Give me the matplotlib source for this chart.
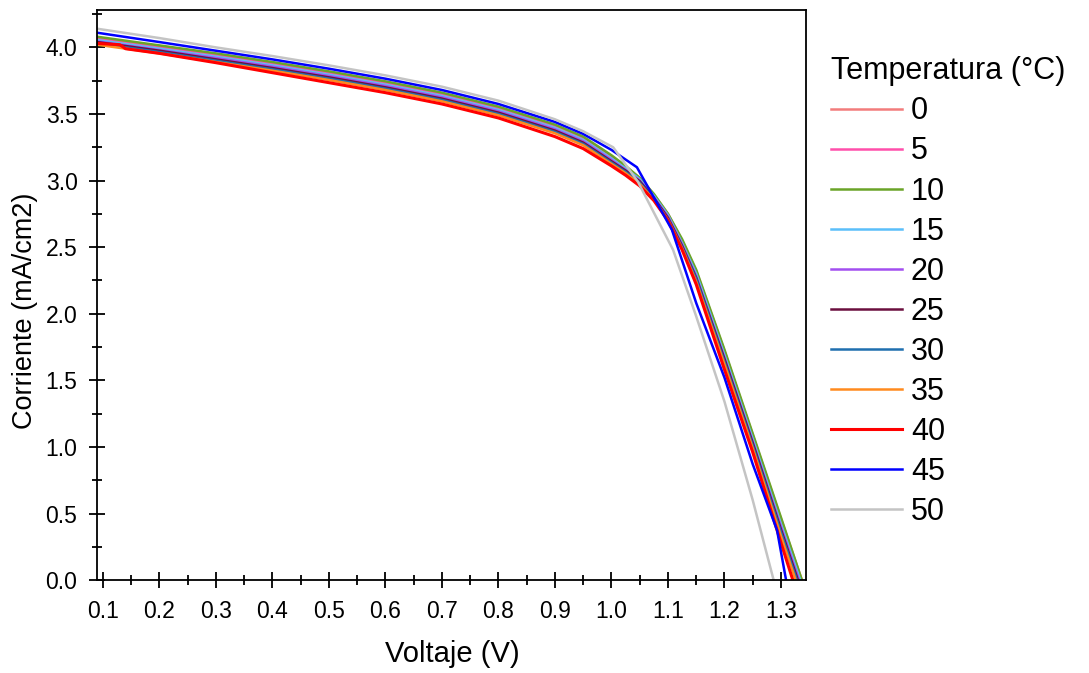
import matplotlib.pyplot as plt
from matplotlib.ticker import MultipleLocator

plt.rcParams['font.family'] = ['Liberation Sans', 'DejaVu Sans']

# Voltage grid shared by the 0-35 degC curves (last point is Voc, per series)
V_GRID = [0.09, 0.2, 0.3, 0.4, 0.5, 0.6, 0.7, 0.8, 0.9, 0.95, 1.0, 1.025, 1.05,
          1.075, 1.1, 1.125, 1.15, 1.2, 1.25, 1.3]

temps = ["0", "5", "10", "15", "20", "25", "30", "35", "40", "45", "50"]
colors = ["#F27C7C", "#FF4FAA", "#6AA428", "#5BBFFA", "#A24FF0", "#6B0F3E",
          "#1F6FAF", "#FF8A1E", "#FF0000", "#0000FF", "#C4C4C4"]

i_0 = [4.07, 4.005, 3.945, 3.88, 3.81, 3.735, 3.65, 3.545, 3.41, 3.32, 3.18, 3.105, 3.02, 2.895, 2.75, 2.55, 2.32, 1.72, 1.09, 0.46, 0.0]
i_5 = [4.065, 4.0, 3.94, 3.875, 3.805, 3.73, 3.645, 3.54, 3.405, 3.315, 3.175, 3.10, 3.015, 2.89, 2.74, 2.54, 2.31, 1.71, 1.08, 0.44, 0.0]
i_10 = [4.08, 4.015, 3.955, 3.89, 3.82, 3.745, 3.66, 3.555, 3.42, 3.33, 3.19, 3.11, 3.02, 2.90, 2.75, 2.56, 2.33, 1.73, 1.10, 0.47, 0.0]
i_15 = [4.055, 3.99, 3.93, 3.865, 3.795, 3.72, 3.635, 3.53, 3.395, 3.305, 3.165, 3.09, 3.01, 2.885, 2.74, 2.53, 2.30, 1.69, 1.06, 0.42, 0.0]
i_20 = [4.045, 3.98, 3.92, 3.855, 3.785, 3.71, 3.625, 3.52, 3.385, 3.295, 3.155, 3.08, 3.0, 2.875, 2.73, 2.52, 2.28, 1.67, 1.04, 0.40, 0.0]
i_25 = [4.04, 3.975, 3.91, 3.845, 3.775, 3.70, 3.615, 3.51, 3.375, 3.285, 3.145, 3.075, 2.995, 2.87, 2.72, 2.51, 2.27, 1.66, 1.03, 0.38, 0.0]
i_30 = [4.03, 3.965, 3.90, 3.835, 3.765, 3.69, 3.605, 3.50, 3.365, 3.275, 3.135, 3.065, 2.985, 2.86, 2.71, 2.50, 2.26, 1.64, 1.01, 0.36, 0.0]
i_35 = [4.02, 3.955, 3.89, 3.825, 3.755, 3.68, 3.595, 3.49, 3.355, 3.265, 3.125, 3.055, 2.975, 2.855, 2.705, 2.49, 2.24, 1.62, 0.99, 0.33, 0.0]
voc_mid = [1.337, 1.336, 1.337, 1.334, 1.332, 1.330, 1.328, 1.326]

v_40 = [0.09, 0.13, 0.14, 0.2, 0.3, 0.4, 0.5, 0.6, 0.7, 0.8, 0.9, 0.95, 1.0, 1.025, 1.05,
        1.075, 1.1, 1.125, 1.15, 1.2, 1.25, 1.3, 1.321]
i_40 = [4.03, 4.02, 3.99, 3.955, 3.885, 3.81, 3.735, 3.66, 3.575, 3.47, 3.33, 3.24, 3.11, 3.04, 2.96,
        2.85, 2.70, 2.48, 2.22, 1.58, 0.96, 0.28, 0.0]

v_45 = [0.09, 0.2, 0.3, 0.4, 0.5, 0.6, 0.7, 0.8, 0.9, 0.95, 1.0, 1.045, 1.107, 1.15, 1.2, 1.25, 1.293, 1.309]
i_45 = [4.11, 4.04, 3.975, 3.91, 3.84, 3.765, 3.68, 3.575, 3.44, 3.35, 3.23, 3.10, 2.63, 2.08, 1.52, 0.87, 0.375, 0.0]

v_50 = [0.09, 0.2, 0.3, 0.4, 0.5, 0.6, 0.7, 0.8, 0.9, 0.95, 1.003, 1.047, 1.109, 1.15, 1.2, 1.25, 1.287]
i_50 = [4.14, 4.07, 4.0, 3.935, 3.865, 3.79, 3.705, 3.60, 3.46, 3.37, 3.25, 2.99, 2.48, 1.98, 1.34, 0.60, 0.0]

mid_currents = [i_0, i_5, i_10, i_15, i_20, i_25, i_30, i_35]

fig = plt.figure(figsize=(10.89, 6.73), dpi=100)
ax = fig.add_axes([0.089, 0.138, 0.651, 0.847])

for k, cur in enumerate(mid_currents):
    ax.plot(V_GRID + [voc_mid[k]], cur, color=colors[k], lw=1.8, label=temps[k])
ax.plot(v_40, i_40, color=colors[8], lw=2.2, label=temps[8])
ax.plot(v_45, i_45, color=colors[9], lw=1.8, label=temps[9])
ax.plot(v_50, i_50, color=colors[10], lw=1.8, label=temps[10])

ax.set_xlim(0.0894, 1.344)
ax.set_ylim(0, 4.28)
ax.xaxis.set_minor_locator(MultipleLocator(0.05))
ax.yaxis.set_major_locator(MultipleLocator(0.5))
ax.yaxis.set_minor_locator(MultipleLocator(0.25))
ax.tick_params(which='major', direction='inout', length=12, width=1.3, labelsize=16.5)
ax.tick_params(which='minor', direction='inout', length=7, width=1.3)
ax.tick_params(axis='x', which='major', pad=8)
ax.tick_params(axis='y', which='major', pad=8)
ax.set_xticks([round(0.1 * k, 1) for k in range(1, 14)])
ax.set_xticklabels(["%.1f" % (0.1 * k) for k in range(1, 14)])
for s in ax.spines.values():
    s.set_linewidth(1.3)

ax.set_xlabel("Voltaje (V)", fontsize=21)
ax.set_ylabel("Corriente (mA/cm2)", fontsize=19.5)
ax.xaxis.set_label_coords(0.502, -0.105)
ax.yaxis.set_label_coords(-0.083, 0.472)

leg = ax.legend(title="Temperatura (°C)", loc='upper left', bbox_to_anchor=(1.036, 0.919),
                frameon=False, fontsize=22, title_fontsize=22, handlelength=2.3,
                handletextpad=0.3, labelspacing=0.33, borderaxespad=0, borderpad=0)
leg._legend_box.align = "left"

fig.savefig("out.png", dpi=100)
